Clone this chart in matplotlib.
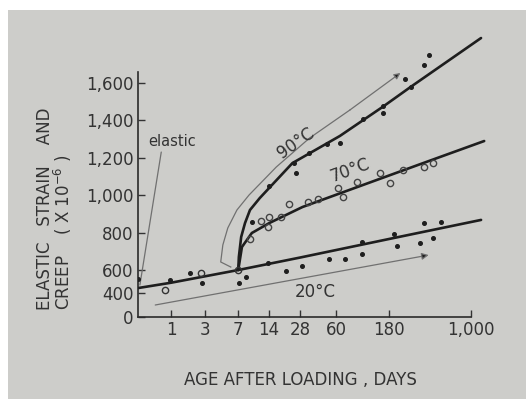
"""Elastic strain and creep vs age after loading, at 20, 70 and 90 °C."""

import numpy as np
import matplotlib
matplotlib.use("Agg")
import matplotlib.pyplot as plt
from matplotlib.patches import Rectangle

# --- data (t in days, strain in 1e-6) ---
T20_LINE = [0, 1, 7, 28, 185, 1230]
V20_LINE = [443, 490, 600, 667, 767, 868]
T20_DOTS = [0, 0.95, 1.97, 2.74, 7.1, 8.4, 13.9, 20.7, 29.3, 51, 72, 103, 103,
            202, 216, 343, 450, 373, 533]
V20_DOTS = [520, 513, 574, 487, 487, 539, 637, 591, 621, 659, 659, 686, 750,
            793, 728, 744, 771, 851, 857]
T20_OPEN = [0.76, 2.7, 7]
V20_OPEN = [426, 574, 600]

T70_LINE = [7, 7.63, 9.6, 14.2, 29.3, 60.8, 350, 1312]
V70_LINE = [600, 723, 798, 851, 937, 1004, 1167, 1290]
T70_OPEN = [9.2, 11.9, 14.2, 13.9, 18.5, 22.1, 32.7, 40.5, 62, 69, 93, 186,
            151, 245, 373, 450]
V70_OPEN = [766, 862, 884, 830, 884, 953, 964, 980, 1039, 991, 1071, 1065,
            1119, 1135, 1151, 1172]

T90_LINE = [7, 7.1, 7.5, 8.2, 9.2, 11.5, 14.2, 23.6, 64.8, 161, 284, 1229]
V90_LINE = [600, 670, 777, 851, 921, 985, 1039, 1172, 1317, 1475, 1579, 1841]
T90_DOTS = [9.6, 14.2, 24.6, 25.7, 33.4, 49.1, 64.8, 105, 161, 161, 284, 255,
            373, 414]
V90_DOTS = [857, 1049, 1172, 1119, 1226, 1274, 1279, 1408, 1477, 1440, 1579,
            1622, 1697, 1750]

# thin guide curve beside the 90 °C line, ending in an arrow
T90_GUIDE = [5.85, 4.56, 4.81, 5.44, 6.78, 9.0, 16.6, 34.1, 80, 230]
V90_GUIDE = [616, 643, 734, 825, 921, 1001, 1151, 1306, 1456, 1654]
# thin straight arrow under the 20 °C line, and the "elastic" leader
ARROW20_T = [0.43, 414]
ARROW20_V = [200, 680]
ELASTIC_T = [0.04, 0.62]
ELASTIC_V = [470, 1231]

X_TICKS = [1, 3, 7, 14, 28, 60, 180, 1000]
X_LABELS = ["1", "3", "7", "14", "28", "60", "180", "1,000"]
Y_TICKS = [0, 400, 600, 800, 1000, 1200, 1400, 1600]
Y_LABELS = ["0", "400", "600", "800", "1,000", "1,200", "1,400", "1,600"]

# the original y axis is squeezed below 600 (broken axis); mimic it
Y_KNOTS = [0, 400, 600, 1600, 2500]
Y_PIX = [0, 24, 47, 234, 402.3]


def y_fwd(v):
    return np.interp(v, Y_KNOTS, Y_PIX)


def y_inv(p):
    return np.interp(p, Y_PIX, Y_KNOTS)


def x_fwd(t):
    return np.log10(1 + np.clip(t, 0, None))


def x_inv(u):
    return 10 ** u - 1


INK = "#1e1e1e"
TEXT = "#333333"
GUIDE = "#707070"
PAPER = "#cdcdca"

W, H = 526, 399
fig = plt.figure(figsize=(W / 100, H / 100), dpi=100, facecolor="white")
fig.add_artist(Rectangle((8 / W, 0), 1 - 8 / W, 1 - 10 / H, transform=fig.transFigure,
                         facecolor=PAPER, edgecolor="none", zorder=0))

ax = fig.add_axes([138 / W, (H - 317) / H, 366.5 / W, (317 - 27) / H])
ax.set_facecolor("none")
ax.set_xscale("function", functions=(x_fwd, x_inv))
ax.set_yscale("function", functions=(y_fwd, y_inv))
ax.set_xlim(0, 2000)
ax.set_ylim(0, 1900)

# curves
for t, v in ((T20_LINE, V20_LINE), (T70_LINE, V70_LINE), (T90_LINE, V90_LINE)):
    ax.plot(t, v, color=INK, lw=1.9, solid_capstyle="round",
            solid_joinstyle="round", zorder=3)

# observations
ax.plot(T20_DOTS, V20_DOTS, "o", ms=2.6, color=INK, zorder=4)
ax.plot(T90_DOTS, V90_DOTS, "o", ms=2.6, color=INK, zorder=4)
ax.plot(T20_OPEN, V20_OPEN, "o", ms=4.5, mfc="none", mec="#333333", mew=1.0, zorder=4)
ax.plot(T70_OPEN, V70_OPEN, "o", ms=4.5, mfc="none", mec="#444444", mew=1.0, zorder=4)

# guides
ax.plot(T90_GUIDE[:-1], V90_GUIDE[:-1], color=GUIDE, lw=0.9, zorder=2)
ax.annotate("", xy=(T90_GUIDE[-1], V90_GUIDE[-1]), xytext=(T90_GUIDE[-2], V90_GUIDE[-2]),
            arrowprops=dict(arrowstyle="-|>", color=GUIDE, lw=0.9,
                            mutation_scale=9, shrinkA=0, shrinkB=0, fc=INK))
ax.annotate("", xy=(ARROW20_T[1], ARROW20_V[1]), xytext=(ARROW20_T[0], ARROW20_V[0]),
            arrowprops=dict(arrowstyle="-|>", color=GUIDE, lw=0.9,
                            mutation_scale=10, shrinkA=0, shrinkB=0, fc=INK))
ax.annotate("", xy=(ELASTIC_T[1], ELASTIC_V[1]), xytext=(ELASTIC_T[0], ELASTIC_V[0]),
            arrowprops=dict(arrowstyle="-", color=GUIDE, lw=0.9, shrinkA=0, shrinkB=0))

# curve labels
ax.text(25.7, 1279, "90°C", rotation=35, ha="center", va="center",
        fontsize=12, color=TEXT)
ax.text(80, 1135, "70°C", rotation=20, ha="center", va="center",
        fontsize=12, color=TEXT)
ax.text(38.8, 409, "20°C", ha="center", va="center", fontsize=12, color=TEXT)
ax.text(0.23, 1290, "elastic", ha="left", va="center", fontsize=10.5, color=TEXT)

# axes: only the two hand-drawn spines
for side in ("top", "right"):
    ax.spines[side].set_visible(False)
for side in ("left", "bottom"):
    ax.spines[side].set_color("#2a2a2a")
    ax.spines[side].set_linewidth(1.2)
ax.spines["bottom"].set_bounds(0, 1000)
ax.spines["left"].set_bounds(0, 1660)

ax.set_xticks(X_TICKS)
ax.set_xticklabels(X_LABELS)
ax.set_yticks(Y_TICKS)
ax.set_yticklabels(Y_LABELS)
ax.minorticks_off()
ax.tick_params(direction="in", length=5, width=1.0, colors=TEXT,
               labelsize=12, pad=3)

fig.text(300 / W, 1 - 380 / H, "AGE AFTER LOADING , DAYS", ha="center", va="center",
         fontsize=12, color=TEXT)
fig.text(45 / W, 1 - 310 / H, "ELASTIC   STRAIN    AND", rotation=90,
         ha="center", va="bottom", fontsize=12, color=TEXT)
fig.text(63 / W, 1 - 310 / H, "CREEP    ( X 10$^{-6}$ )", rotation=90,
         ha="center", va="bottom", fontsize=12, color=TEXT)

fig.savefig("out.png", dpi=100, facecolor=fig.get_facecolor())
